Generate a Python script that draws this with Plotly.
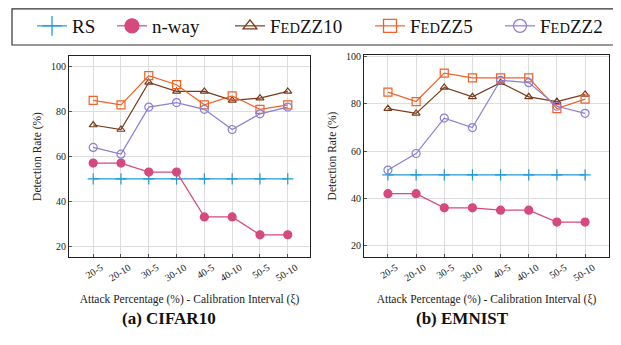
import plotly.graph_objects as go

categories = ["20-5", "20-10", "30-5", "30-10", "40-5", "40-10", "50-5", "50-10"]

cifar_rs = [50, 50, 50, 50, 50, 50, 50, 50]
cifar_nway = [57, 57, 53, 53, 33, 33, 25, 25]
cifar_fedzz10 = [74, 72, 93, 89, 89, 85, 86, 89]
cifar_fedzz5 = [85, 83, 96, 92, 83, 87, 81, 83]
cifar_fedzz2 = [64, 61, 82, 84, 81, 72, 79, 82]

emnist_rs = [50, 50, 50, 50, 50, 50, 50, 50]
emnist_nway = [42, 42, 36, 36, 35, 35, 30, 30]
emnist_fedzz10 = [78, 76, 87, 83, 89, 83, 81, 84]
emnist_fedzz5 = [85, 81, 93, 91, 91, 91, 78, 82]
emnist_fedzz2 = [52, 59, 74, 70, 90, 89, 79, 76]

y_ticks = [20, 40, 60, 80, 100]

SC = "<span style='font-size:14.5px'>ED</span>"
names = ["RS", "n-way", "F" + SC + "ZZ10", "F" + SC + "ZZ5", "F" + SC + "ZZ2"]
colors = ["#229ad6", "#d6497f", "#7a3a1c", "#ef6228", "#8a7fd2"]
symbols = ["cross-thin", "circle", "triangle-up-open", "square-open", "circle-open"]
sizes = [8, 8, 7, 8, 8]
legend_sizes = [14, 14, 12, 13, 13]
legend_text_x = [72, 152, 270, 410, 540]   # where each legend label starts (px)

FONT = "Liberation Serif, DejaVu Serif, serif"

# page body has an 8px margin: figure occupies [8, 621] x [8, 345]
OFF = 8
W, H = 621 - OFF, 345 - OFF


def px(x):
    return (x - OFF) / W


def py(y):
    return 1 - (y - OFF) / H


fig = go.Figure()

datasets = [
    ("x", "y", [cifar_rs, cifar_nway, cifar_fedzz10, cifar_fedzz5, cifar_fedzz2]),
    ("x2", "y2", [emnist_rs, emnist_nway, emnist_fedzz10, emnist_fedzz5, emnist_fedzz2]),
]

for di, (xa, ya, series) in enumerate(datasets):
    for i, vals in enumerate(series):
        fig.add_trace(go.Scatter(
            x=categories, y=vals, xaxis=xa, yaxis=ya,
            mode="lines+markers", name=names[i], showlegend=False,
            line=dict(color=colors[i], width=1.2),
            marker=dict(symbol=symbols[i], size=sizes[i], color=colors[i],
                        line=dict(color=colors[i], width=1.2)),
        ))

# legend-only entries (no data drawn)
legend_layout = {}
for i in range(5):
    lname = "legend" if i == 0 else f"legend{i + 1}"
    fig.add_trace(go.Scatter(
        x=[None], y=[None], mode="lines+markers", name=names[i],
        showlegend=True, legend=lname,
        line=dict(color=colors[i], width=1.2),
        marker=dict(symbol=symbols[i], size=legend_sizes[i], color=colors[i],
                    line=dict(color=colors[i], width=1.3)),
    ))
    legend_layout[lname] = dict(
        orientation="h", x=px(legend_text_x[i] - 40), xanchor="left",
        y=py(26), yanchor="middle", bgcolor="rgba(0,0,0,0)", borderwidth=0,
        font=dict(family=FONT, size=19, color="#111"), itemwidth=30,
    )

axis_common = dict(
    showline=True, mirror=True, linecolor="#222", linewidth=1.2,
    showgrid=True, gridcolor="#dddddd", gridwidth=1,
    ticks="inside", ticklen=3, tickcolor="#555",
    tickfont=dict(family=FONT, size=10, color="#222"),
    zeroline=False, automargin=False,
)

xcommon = dict(axis_common, type="category", tickangle=-32, ticklabelshift=8,
               title=dict(text="Attack Percentage (%) - Calibration Interval (ξ)",
                          font=dict(family=FONT, size=11.5, color="#222"), standoff=12))

fig.update_layout(
    width=W, height=H,
    margin=dict(l=0, r=0, t=0, b=0, autoexpand=False),
    paper_bgcolor="white", plot_bgcolor="white",
    font=dict(family=FONT, color="#222"),
    xaxis=dict(xcommon, domain=[px(69), px(310)], anchor="y", range=[-0.87, 7.8]),
    xaxis2=dict(xcommon, domain=[px(364), px(609)], anchor="y2", range=[-0.85, 7.85]),
    yaxis=dict(axis_common, domain=[py(257), py(56)], anchor="x",
               range=[15.1, 104.8], tickvals=y_ticks,
               title=dict(text="Detection Rate (%)", font=dict(family=FONT, size=11.5, color="#222"),
                          standoff=6)),
    yaxis2=dict(axis_common, domain=[py(257), py(55)], anchor="x2",
                range=[15.2, 100.7], tickvals=y_ticks,
                title=dict(text="Detection Rate (%)", font=dict(family=FONT, size=11.5, color="#222"),
                           standoff=6)),
    shapes=[dict(type="rect", xref="paper", yref="paper",
                 x0=px(12), x1=px(630), y0=py(45), y1=py(8.8),
                 line=dict(color="#333", width=1.2), fillcolor="rgba(0,0,0,0)", layer="below")],
    annotations=[
        dict(text="<b>(a) CIFAR10</b>", x=px(169), y=py(318), xref="paper", yref="paper",
             showarrow=False, font=dict(family=FONT, size=17, color="#111"), xanchor="center", yanchor="middle"),
        dict(text="<b>(b) EMNIST</b>", x=px(462), y=py(318), xref="paper", yref="paper",
             showarrow=False, font=dict(family=FONT, size=17, color="#111"), xanchor="center", yanchor="middle"),
    ],
    **legend_layout,
)

fig.write_html("out.html")
